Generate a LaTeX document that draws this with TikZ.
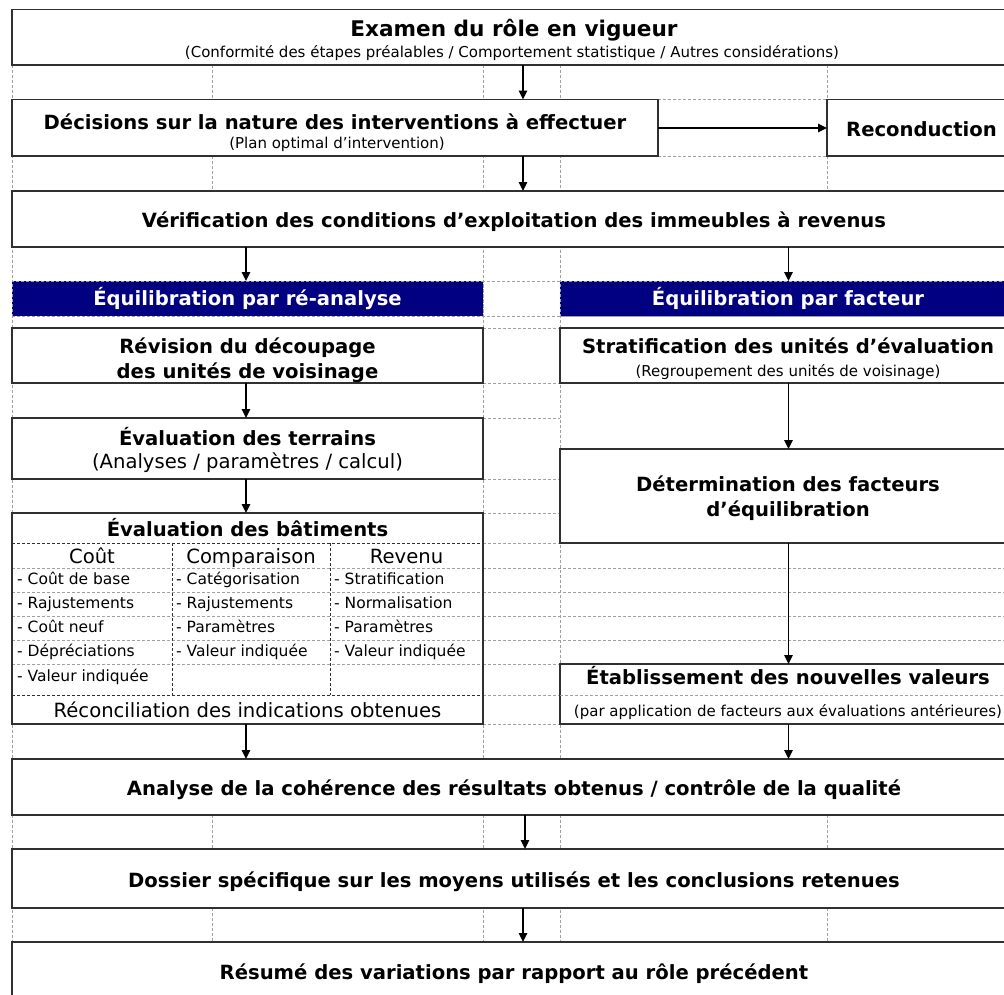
\documentclass[tikz,border=0pt]{standalone}
\usepackage{fontspec}
\setmainfont{DejaVu Sans}
\usetikzlibrary{arrows.meta}
\definecolor{navy}{HTML}{000080}
\definecolor{gridc}{HTML}{A0A0A0}
\definecolor{boxc}{HTML}{303030}
\newcommand{\xTitle}{\fontsize{21.6}{26}\selectfont\bfseries}
\newcommand{\xBold}{\fontsize{19.6}{24}\selectfont\bfseries}
\newcommand{\xNorm}{\fontsize{19.6}{24}\selectfont}
\newcommand{\xSmall}{\fontsize{15}{18}\selectfont}
\newcommand{\xItem}{\fontsize{15.5}{19}\selectfont}
\begin{document}
\begin{tikzpicture}[x=1pt,y=-1pt,
  grid/.style={draw=gridc, line width=0.8pt, dash pattern=on 3pt off 2pt},
  innerd/.style={draw=boxc, line width=1pt, dash pattern=on 3pt off 2pt},
  box/.style={draw=boxc, line width=1.3pt, fill=white, inner sep=0pt, outer sep=0pt, anchor=north west},
  bar/.style={fill=navy, draw=gridc, line width=0.8pt, dash pattern=on 3pt off 2pt, inner sep=0pt, outer sep=0pt, anchor=north west},
  lbl/.style={inner sep=0pt, anchor=base},
  itm/.style={inner sep=0pt, anchor=base west, font=\xItem},
  arr/.style={draw=black, line width=1.3pt, -{Triangle[length=9pt,width=8.5pt]}}
]
\useasboundingbox (0,0) rectangle (1004,994);
\clip (0,0) rectangle (1004,994);
\fill[white] (0,0) rectangle (1004,994);

% ---- grid lines of the underlying table
\draw[grid] (12,9.5) -- (12,1010);
\draw[grid] (483,9.5) -- (483,1010);
\draw[grid] (560,9.5) -- (560,1010);
\foreach \a/\b in {65/99.5,156/191,815/849,908/942}{
  \draw[grid] (212,\a) -- (212,\b);
  \draw[grid] (827,\a) -- (827,\b);
}
\draw[grid] (658,99.5) -- (827,99.5);
\draw[grid] (658,156) -- (827,156);
\foreach \y in {281,316}{\draw[grid] (12,\y) -- (1016,\y);}
\foreach \y in {328,383,418,479,513,543,664,695,724}{\draw[grid] (483,\y) -- (560,\y);}
\foreach \y in {568,592,616,640}{\draw[grid] (483,\y) -- (1016,\y);}

% ---- boxes
\node[box, minimum width=1004pt, minimum height=55.5pt] (top) at (12,9.5) {};
\node[box, minimum width=646pt, minimum height=56.5pt] (dec) at (12,99.5) {};
\node[box, minimum width=189pt, minimum height=56.5pt] (rec) at (827,99.5) {};
\node[box, minimum width=1004pt, minimum height=56pt] (ver) at (12,191) {};
\node[bar, minimum width=471pt, minimum height=35pt] (barA) at (12,281) {};
\node[bar, minimum width=456pt, minimum height=35pt] (barB) at (560,281) {};
\node[box, minimum width=471pt, minimum height=55pt] (rev) at (12,328) {};
\node[box, minimum width=456pt, minimum height=55pt] (strat) at (560,328) {};
\node[box, minimum width=471pt, minimum height=61pt] (terr) at (12,418) {};
\node[box, minimum width=471pt, minimum height=211pt] (bat) at (12,513) {};
\node[box, minimum width=456pt, minimum height=94pt] (det) at (560,449) {};
\node[box, minimum width=456pt, minimum height=60pt] (etab) at (560,664) {};
\node[box, minimum width=1004pt, minimum height=56pt] (ana) at (12,759) {};
\node[box, minimum width=1004pt, minimum height=59pt] (dos) at (12,849) {};
\node[box, minimum width=1004pt, minimum height=60pt] (res) at (12,942) {};

% ---- inner lines of the building table
\foreach \y in {568,592,616,640,664}{\draw[grid] (12,\y) -- (483,\y);}
\draw[innerd] (12,543) -- (483,543);
\draw[innerd] (12,695) -- (483,695);
\draw[innerd] (172,543) -- (172,695);
\draw[innerd] (330,543) -- (330,695);
\draw[grid] (560,695) -- (1016,695);
\draw[boxc, line width=1.3pt] (bat.north west) rectangle (bat.south east);

% ---- texts
\node[lbl, font=\xTitle] (tTop) at (514,36) {Examen du rôle en vigueur};
\node[lbl, font=\xSmall] (sTop) at (512,57) {(Conformité des étapes préalables / Comportement statistique / Autres considérations)};
\node[lbl, font=\xBold] (tDec) at (335,129.5) {Décisions sur la nature des interventions à effectuer};
\node[lbl, font=\xSmall] (sDec) at (337,148) {(Plan optimal d’intervention)};
\node[lbl, font=\xBold] (tRec) at (921.5,136.5) {Reconduction};
\node[lbl, font=\xBold] (tVer) at (514,227.5) {Vérification des conditions d’exploitation des immeubles à revenus};
\node[lbl, font=\xBold, text=white] (tBarA) at (247.5,305) {Équilibration par ré-analyse};
\node[lbl, font=\xBold, text=white] (tBarB) at (788,305) {Équilibration par facteur};
\node[lbl, font=\xBold] (tRev1) at (247.5,353) {Révision du découpage};
\node[lbl, font=\xBold] (tRev2) at (247.5,378) {des unités de voisinage};
\node[lbl, font=\xBold] (tStr) at (788,353.5) {Stratification des unités d’évaluation};
\node[lbl, font=\xSmall] (sStr) at (788,376.5) {(Regroupement des unités de voisinage)};
\node[lbl, font=\xBold] (tTer) at (247.5,445) {Évaluation des terrains};
\node[lbl, font=\xNorm] (sTer) at (247.5,468) {(Analyses / paramètres / calcul)};
\node[lbl, font=\xBold] (tBat) at (247.5,536) {Évaluation des bâtiments};
\node[lbl, font=\xNorm] (hA) at (92,563) {Coût};
\node[lbl, font=\xNorm] (hB) at (251,563) {Comparaison};
\node[lbl, font=\xNorm] (hC) at (406.5,563) {Revenu};
\node[itm] (a1) at (17,584.5) {- Coût de base};
\node[itm] (a2) at (17,608.5) {- Rajustements};
\node[itm] (a3) at (17,632.5) {- Coût neuf};
\node[itm] (a4) at (17,656.5) {- Dépréciations};
\node[itm] (a5) at (17,681) {- Valeur indiquée};
\node[itm] (b1) at (176,584.5) {- Catégorisation};
\node[itm] (b2) at (176,608.5) {- Rajustements};
\node[itm] (b3) at (176,632.5) {- Paramètres};
\node[itm] (b4) at (176,656.5) {- Valeur indiquée};
\node[itm] (c1) at (334,584.5) {- Stratification};
\node[itm] (c2) at (334,608.5) {- Normalisation};
\node[itm] (c3) at (334,632.5) {- Paramètres};
\node[itm] (c4) at (334,656.5) {- Valeur indiquée};
\node[lbl, font=\xNorm] (tRec2) at (247.5,717.6) {Réconciliation des indications obtenues};
\node[lbl, font=\xBold] (tDet1) at (788,491.7) {Détermination des facteurs};
\node[lbl, font=\xBold] (tDet2) at (788,516.2) {d’équilibration};
\node[lbl, font=\xBold] (tEta) at (788,684) {Établissement des nouvelles valeurs};
\node[lbl, font=\xSmall] (sEta) at (788,716) {(par application de facteurs aux évaluations antérieures)};
\node[lbl, font=\xBold] (tAna) at (514,795.5) {Analyse de la cohérence des résultats obtenus / contrôle de la qualité};
\node[lbl, font=\xBold] (tDos) at (514,887) {Dossier spécifique sur les moyens utilisés et les conclusions retenues};
\node[lbl, font=\xBold] (tRes) at (514,979) {Résumé des variations par rapport au rôle précédent};

% ---- connectors
\coordinate (cM) at (523,0);
\coordinate (cM2) at (525,0);
\coordinate (cL) at (246,0);
\coordinate (cR) at (788.5,0);
\coordinate (cH) at (0,128);
\draw[arr] (cM |- top.south) -- (cM |- dec.north);
\draw[arr] (cM |- dec.south) -- (cM |- ver.north);
\draw[arr] (cH -| dec.east) -- (cH -| rec.west);
\draw[arr] (cL |- ver.south) -- (cL |- barA.north);
\draw[arr] (cR |- ver.south) -- (cR |- barB.north);
\draw[arr] (cL |- rev.south) -- (cL |- terr.north);
\draw[arr] (cL |- terr.south) -- (cL |- bat.north);
\draw[arr] (cR |- strat.south) -- (cR |- det.north);
\draw[arr] (cR |- det.south) -- (cR |- etab.north);
\draw[arr] (cL |- bat.south) -- (cL |- ana.north);
\draw[arr] (cR |- etab.south) -- (cR |- ana.north);
\draw[arr] (cM2 |- ana.south) -- (cM2 |- dos.north);
\draw[arr] (cM |- dos.south) -- (cM |- res.north);
\end{tikzpicture}
\end{document}
